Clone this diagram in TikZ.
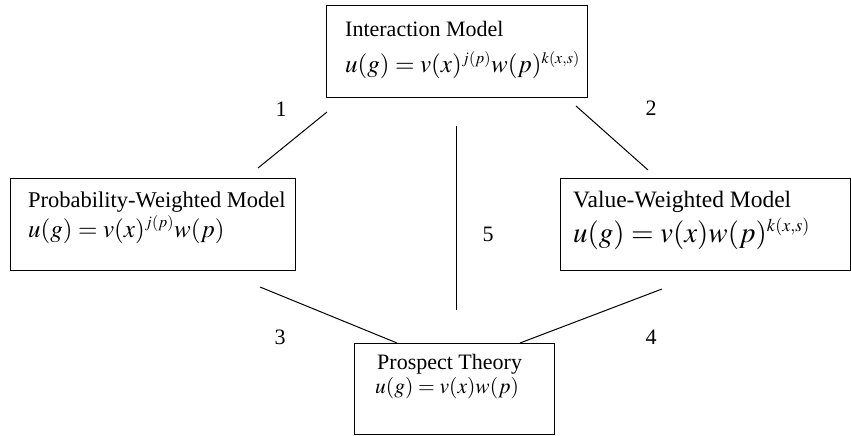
\documentclass[tikz,border=0pt]{standalone}
\usepackage{mathptmx}
\usepackage[no-math]{fontspec}
\setmainfont{Liberation Serif}
\DeclareMathSizes{25}{25}{16}{11}
\DeclareMathSizes{29}{29}{18}{13}
\DeclareMathSizes{21.5}{21.5}{14}{10}
\begin{document}
\begin{tikzpicture}[x=1pt,y=-1pt,
  box/.style={draw,line width=1pt,anchor=north west,inner sep=0pt},
  ttl/.style={anchor=base west,inner sep=0pt},
  frm/.style={anchor=base west,inner sep=0pt,font=\fontsize{25}{28}\selectfont},
  num/.style={inner sep=0pt,font=\fontsize{22}{24}\selectfont},
  conn/.style={line width=1pt}]
\useasboundingbox (0,0) rectangle (851,436);
% boxes
\node[box,minimum width=261pt,minimum height=92pt] (im) at (326,5) {};
\node[box,minimum width=285pt,minimum height=92pt] (pw) at (10,178) {};
\node[box,minimum width=290pt,minimum height=92pt] (vw) at (560,178) {};
\node[box,minimum width=200pt,minimum height=91pt] (pt) at (354,343) {};
% texts
\node[ttl,font=\fontsize{22}{24}\selectfont] (imt) at (345,37) {Interaction Model};
\node[frm] (imf) at (345,73) {$u(g)=v(x)^{j(p)}w(p)^{k(x,s)}$};
\node[ttl,font=\fontsize{22.5}{24}\selectfont] (pwt) at (28,207) {Probability-Weighted Model};
\node[frm] (pwf) at (28,237) {$u(g)=v(x)^{j(p)}w(p)$};
\node[ttl,font=\fontsize{23.5}{26}\selectfont] (vwt) at (573,207) {Value-Weighted Model};
\node[frm,font=\fontsize{29}{32}\selectfont] (vwf) at (573,242) {$u(g)=v(x)w(p)^{k(x,s)}$};
\node[ttl,font=\fontsize{22}{24}\selectfont] (ptt) at (377,369) {Prospect Theory};
\node[frm,font=\fontsize{21.5}{24}\selectfont] (ptf) at (375,393) {$u(g)=v(x)w(p)$};
% connector ends
\coordinate (a1) at (258,168); \coordinate (b1) at (327,112);
\coordinate (a2) at (576,106); \coordinate (b2) at (648,170);
\coordinate (a3) at (260,287); \coordinate (b3) at (397,343);
\coordinate (a4) at (520,343); \coordinate (b4) at (662,289);
\coordinate (a5) at (456,126); \coordinate (b5) at (456,310);
\draw[conn] (a1) -- (b1);
\draw[conn] (a2) -- (b2);
\draw[conn] (a3) -- (b3);
\draw[conn] (a4) -- (b4);
\draw[conn] (a5) -- (b5);
% numbers
\node[num] (n1) at (281,109) {1};
\node[num] (n2) at (651,108) {2};
\node[num] (n3) at (280,337) {3};
\node[num] (n4) at (651,337) {4};
\node[num] (n5) at (488,234) {5};
\end{tikzpicture}
\end{document}
